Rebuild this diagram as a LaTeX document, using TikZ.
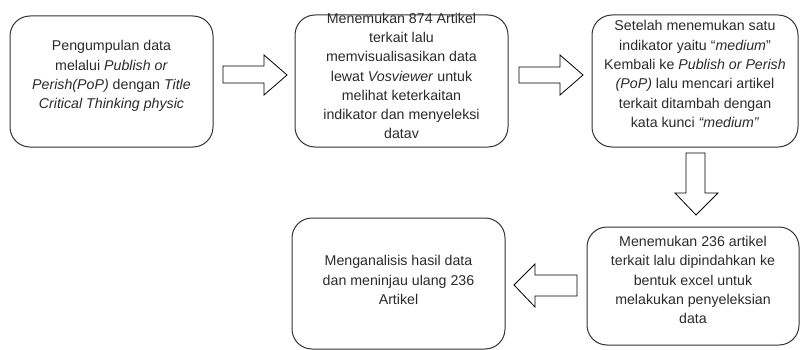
\documentclass[tikz,border=0pt]{standalone}
\usepackage{fontspec}
\setmainfont{Liberation Sans}
\definecolor{ln}{HTML}{333333}
\definecolor{tx}{HTML}{2A2A2A}
\begin{document}
\begin{tikzpicture}[x=1pt,y=-1pt,
  box/.style={draw=ln,line width=1pt,rounded corners=20pt,inner sep=0pt},
  lbl/.style={font=\fontsize{14.2}{19.3}\selectfont,text=tx,align=center,inner sep=0pt},
  blockarrow/.style={draw=black,line width=0.8pt,fill=white,line join=miter}]
\useasboundingbox (0,0) rectangle (800,350);
\node[box,minimum width=203pt,minimum height=131pt] (b1) at (111.5,81.5) {};
\node[lbl] (t1) at (111.5,76)
  {Pengumpulan data\\ melalui \textit{Publish or}\\ \textit{Perish(PoP)} dengan \textit{Title}\\ \textit{Critical Thinking physic}};
\node[box,minimum width=213pt,minimum height=132pt] (b2) at (401.5,81) {};
\node[lbl] (t2) at (401.5,76)
  {Menemukan 874 Artikel\\ terkait lalu\\ memvisualisasikan data\\ lewat \textit{Vosviewer} untuk\\ melihat keterkaitan\\ indikator dan menyeleksi\\ datav};
\node[box,minimum width=206pt,minimum height=132pt] (b3) at (695,81) {};
\node[lbl] (t3) at (695,74)
  {Setelah menemukan satu\\ indikator yaitu ``\textit{medium}''\\ Kembali ke \textit{Publish or Perish}\\ \textit{(PoP)} lalu mencari artikel\\ terkait ditambah dengan\\ kata kunci \textit{``medium''}};
\node[box,minimum width=212pt,minimum height=118pt] (b4) at (693,286) {};
\node[lbl] (t4) at (693,280)
  {Menemukan 236 artikel\\ terkait lalu dipindahkan ke\\ bentuk excel untuk\\ melakukan penyeleksian\\ data};
\node[box,minimum width=213pt,minimum height=131pt] (b5) at (398.5,283.5) {};
\node[lbl] (t5) at (398.5,280)
  {Menganalisis hasil data\\ dan meninjau ulang 236\\ Artikel};
% block arrows
\draw[blockarrow] (223,66) -- (264,66) -- (264,55) -- (287,75) -- (264,95) -- (264,83) -- (223,83) -- cycle;
\draw[blockarrow] (519,67) -- (560,67) -- (560,55) -- (583,75) -- (560,95) -- (560,83) -- (519,83) -- cycle;
\draw[blockarrow] (686,153) -- (705,153) -- (705,193) -- (718,193) -- (696,215) -- (675,193) -- (686,193) -- cycle;
\draw[blockarrow] (577,275) -- (535,275) -- (535,264) -- (514,285) -- (535,307) -- (535,296) -- (577,296) -- cycle;
\end{tikzpicture}
\end{document}
